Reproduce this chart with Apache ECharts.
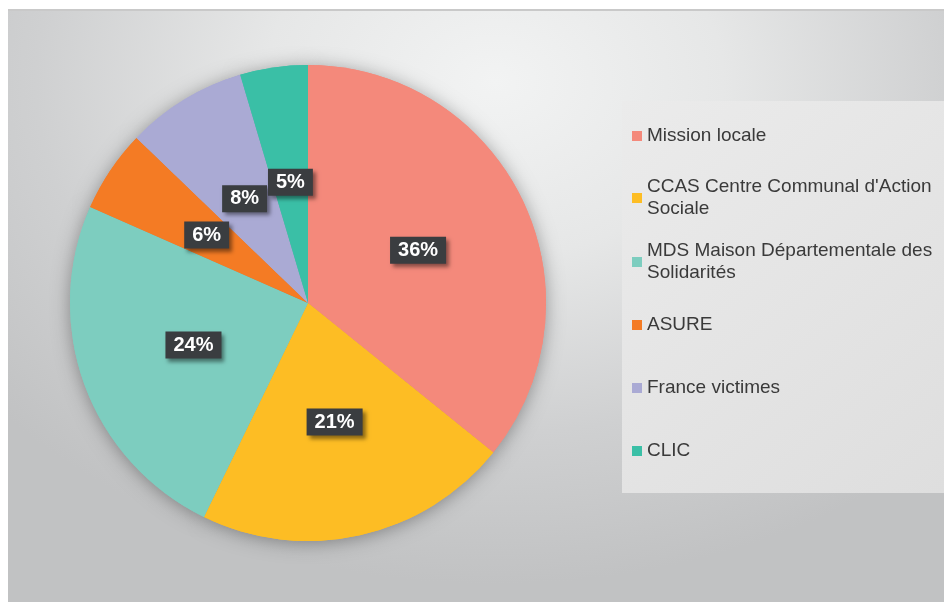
<!DOCTYPE html>
<html>
<head>
<meta charset="utf-8">
<script src="https://cdn.jsdelivr.net/npm/echarts@6/dist/echarts.min.js"></script>
<style>
html, body { margin: 0; padding: 0; background: #fff; }
#chart {
  position: absolute;
  left: 8px; top: 9px;
  width: 936px; height: 591px;
  border-top: 2px solid #c9c9c9;
  background: radial-gradient(ellipse 70% 85% at 52% 12%, #f2f3f3 0%, #e6e7e7 35%, #cfd0d1 70%, #c1c2c3 100%);
}
</style>
</head>
<body>
<div id="chart"></div>
<script>
// chart data
const categories = ['Mission locale', 'CCAS Centre Communal d\'Action Sociale', 'MDS Maison Départementale des Solidarités', 'ASURE', 'France victimes', 'CLIC']
const legendLabels = ['Mission locale', 'CCAS Centre Communal d\'Action\nSociale', 'MDS Maison Départementale des\nSolidarités', 'ASURE', 'France victimes', 'CLIC']
const shares = [35.8, 21.4, 24.4, 5.6, 8.2, 4.6]
const colors = ['#F4897B', '#FDBD24', '#7DCDBF', '#F47B24', '#AAAAD4', '#3ABFA6']

const chart = echarts.init(document.getElementById('chart'), null, { renderer: 'canvas' })

const pieData = categories.map((name, i) => ({ name: name, value: shares[i] }))

// one legend per entry so the wrapped ones sit like the original
const legendRows = [125, 187, 251, 314, 377, 440]
const legends = categories.map((name, i) => {
  const twoLines = legendLabels[i].indexOf('\n') >= 0
  return {
    data: [name],
    left: 624,
    top: twoLines ? legendRows[i] - 33 : legendRows[i] - 11,
    padding: 0,
    orient: 'vertical',
    icon: 'rect',
    itemWidth: 10,
    itemHeight: 10,
    selectedMode: false,
    formatter: () => legendLabels[i],
    textStyle: {
      fontFamily: 'Liberation Sans, Arial, sans-serif',
      fontSize: 19,
      lineHeight: 22,
      color: '#3a3a3a',
      padding: twoLines ? [22, 0, 0, 0] : 0
    }
  }
})

const option = {
  color: colors,
  animation: false,
  graphic: [{
    type: 'rect',
    silent: true,
    z: -10,
    shape: { x: 614, y: 90, width: 322, height: 392 },
    style: {
      fill: {
        type: 'linear', x: 0, y: 0, x2: 1, y2: 1,
        colorStops: [{ offset: 0, color: '#ebebeb' }, { offset: 1, color: '#dedede' }]
      }
    }
  }],
  legend: legends,
  series: [
    {
      // shadow layer under the pie
      type: 'pie',
      silent: true,
      z: 1,
      center: [300, 292],
      radius: 238,
      startAngle: 90,
      label: { show: false },
      labelLine: { show: false },
      itemStyle: {
        shadowBlur: 18,
        shadowColor: 'rgba(0,0,0,0.35)',
        shadowOffsetX: 0,
        shadowOffsetY: 2
      },
      data: pieData
    },
    {
      type: 'pie',
      z: 2,
      center: [300, 292],
      radius: 238,
      startAngle: 90,
      percentPrecision: 0,
      itemStyle: { borderWidth: 0 },
      labelLayout: { hideOverlap: false },
      label: {
        show: true,
        position: 'inside',
        formatter: '{d}%',
        fontFamily: 'Liberation Sans, Arial, sans-serif',
        fontWeight: 'bold',
        fontSize: 20,
        color: '#ffffff',
        backgroundColor: '#3a3d40',
        padding: [4, 8, 3, 8],
        shadowBlur: 4,
        shadowOffsetX: 3,
        shadowOffsetY: 3,
        shadowColor: 'rgba(0,0,0,0.45)'
      },
      labelLine: { show: false },
      emphasis: { scale: false },
      data: pieData
    }
  ]
}

chart.setOption(option)
</script>
</body>
</html>
